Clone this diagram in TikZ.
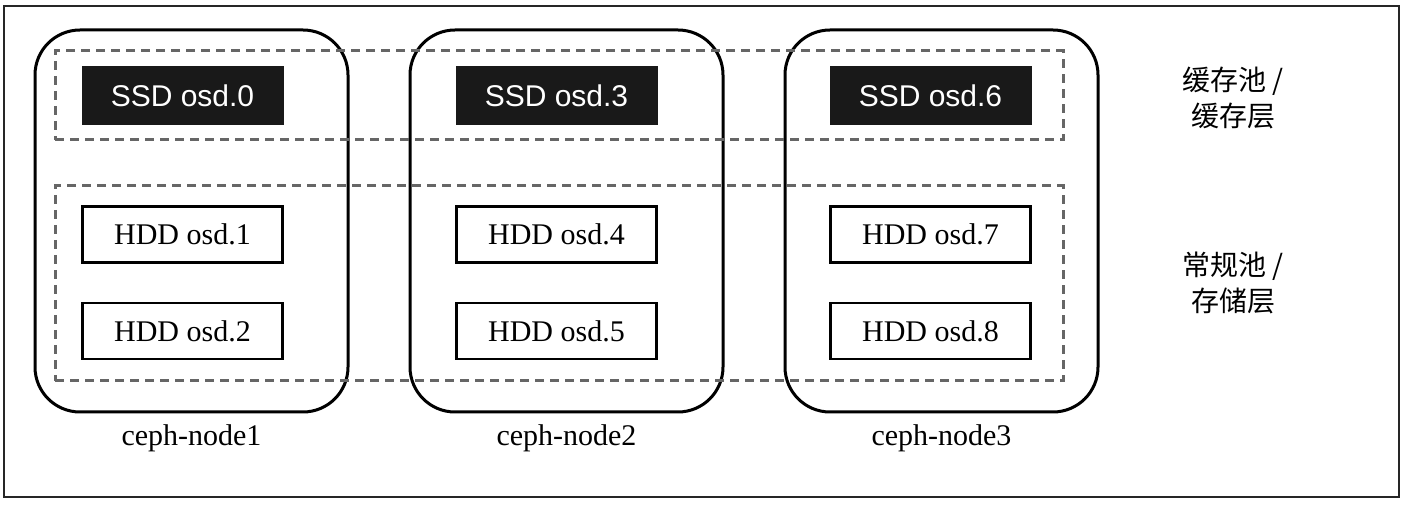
\documentclass[tikz,border=0pt]{standalone}
\usepackage{fontspec}
\setmainfont{Liberation Serif}
\setsansfont{Liberation Sans}
\newfontfamily\cjk{Noto Sans CJK SC}
\usetikzlibrary{backgrounds,fit,positioning}

\begin{document}
\begin{tikzpicture}[x=1pt,y=-1pt,thick]
    % `host' is the rounded box of one ceph node.
    % `ssd' and `hdd' are the osd boxes, `pool' the dashed tiers.
    \tikzstyle{host} = [draw,line width=3pt,rounded corners=45pt,minimum width=313pt,minimum height=382pt,inner sep=0pt]
    \tikzstyle{ssd} = [fill=black!90,text=white,font=\sffamily\fontsize{30}{36}\selectfont,minimum width=202pt,minimum height=59pt,inner sep=0pt]
    \tikzstyle{hdd} = [draw,line width=2.5pt,fill=white,font=\fontsize{30}{36}\selectfont,minimum width=200pt,minimum height=56pt,inner sep=0pt]
    \tikzstyle{pool} = [draw=black!60,line width=3pt,dash pattern=on 9pt off 6pt,inner sep=0pt]
    \tikzstyle{caption} = [font=\fontsize{30}{36}\selectfont]
    \tikzstyle{tier} = [font=\cjk\fontsize{28}{36}\selectfont,align=center]
    %
    \useasboundingbox (0,0) rectangle (1403,510);
    \draw[line width=1.5pt,black!85] (4,6) rectangle (1399,497);
    %
    \foreach \i/\a/\b/\c in {1/0/1/2, 2/3/4/5, 3/6/7/8} {
      \node[host] (host\i) at (375*\i-183.5,221) {};
      \node[caption] (name\i) at (375*\i-183.5,438) {ceph-node\i};
      \node[ssd] (osd\a) at (374*\i-191.5,95.5) {SSD osd.\a};
      \node[hdd] (osd\b) at (374*\i-191.5,234.5) {HDD osd.\b};
      \node[hdd] (osd\c) at (374*\i-191.5,331) {HDD osd.\c};
    }
    %
    % Dashed tiers across all nodes.
    \node[pool,minimum width=1008pt,minimum height=89pt] (cachepool) at (559,95.5) {};
    \node[pool,minimum width=1008pt,minimum height=195pt] (basepool) at (559,283.5) {};
    %
    \node[tier] (cachelabel) at (1233,98) {缓存池 /\\缓存层};
    \node[tier] (baselabel) at (1233,283) {常规池 /\\存储层};
\end{tikzpicture}
\end{document}
